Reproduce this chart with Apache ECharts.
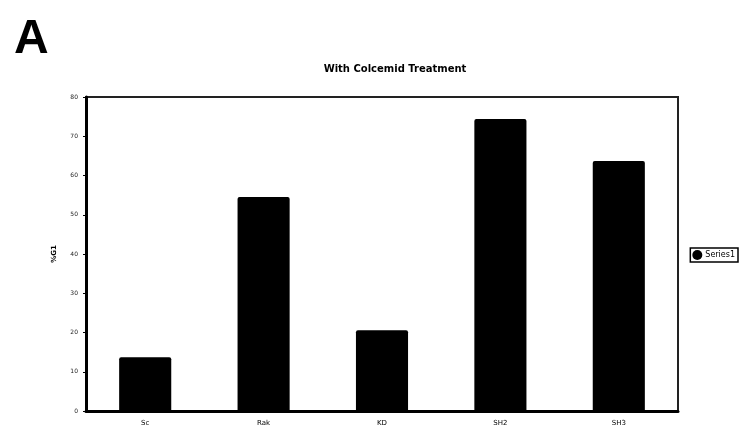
<!DOCTYPE html>
<html>
<head>
<meta charset="utf-8">
<script src="https://cdn.jsdelivr.net/npm/echarts@6/dist/echarts.min.js"></script>
<style>
  html, body { margin: 0; padding: 0; background: #fff; }
  #main { width: 747px; height: 439px; }
</style>
</head>
<body>
<div id="main"></div>
<script>
// data
var categories = ['Sc', 'Rak', 'KD', 'SH2', 'SH3'];
var series1 = [13.7, 54.5, 20.6, 74.4, 63.7];
var yTicks = [0, 10, 20, 30, 40, 50, 60, 70, 80];

var chartDom = document.getElementById('main');
var myChart = echarts.init(chartDom);
var option;

option = {
    animation: false,
    backgroundColor: '#fff',
    title: [
        {
            text: 'A',
            left: 9,
            top: 11,
            textStyle: { fontFamily: 'Liberation Sans', fontSize: 48, fontWeight: 'bold', color: '#000' }
        },
        {
            text: 'With Colcemid Treatment',
            left: 390,
            top: 59,
            textAlign: 'center',
            textStyle: { fontFamily: 'DejaVu Sans', fontSize: 10, fontWeight: 'bold', color: '#000' }
        }
    ],
    legend: {
        data: ['Series1'],
        right: 9,
        top: 248,
        icon: 'circle',
        itemWidth: 10,
        itemHeight: 10,
        itemGap: 2,
        padding: [2, 3, 2, 2],
        borderColor: '#000',
        borderWidth: 1.5,
        textStyle: { fontFamily: 'DejaVu Sans', fontSize: 8, color: '#000', padding: [0, 0, 0, -2] }
    },
    grid: {
        left: 86,
        top: 97,
        width: 592,
        height: 314,
        show: true,
        borderColor: '#222',
        borderWidth: 2
    },
    xAxis: {
        type: 'category',
        data: categories,
        axisLine: { lineStyle: { color: '#000', width: 3 } },
        axisTick: { show: false },
        axisLabel: { fontFamily: 'DejaVu Sans', fontSize: 7, color: '#000', margin: 9 }
    },
    yAxis: {
        type: 'value',
        min: yTicks[0],
        max: yTicks[yTicks.length - 1],
        interval: 10,
        name: '%G1',
        nameLocation: 'middle',
        nameGap: 28,
        nameTextStyle: { fontFamily: 'DejaVu Sans', fontSize: 7, fontWeight: 'bold', color: '#000' },
        axisLine: { show: true, lineStyle: { color: '#000', width: 3 } },
        axisTick: { show: true, length: 3, lineStyle: { color: '#000' } },
        splitLine: { show: false },
        axisLabel: { fontFamily: 'DejaVu Sans', fontSize: 6, color: '#222', margin: 8 }
    },
    series: [
        {
            name: 'Series1',
            type: 'bar',
            data: series1,
            barWidth: '44%',
            itemStyle: { color: '#000', borderRadius: [2, 2, 0, 0] }
        }
    ]
};

option && myChart.setOption(option);
</script>
</body>
</html>
